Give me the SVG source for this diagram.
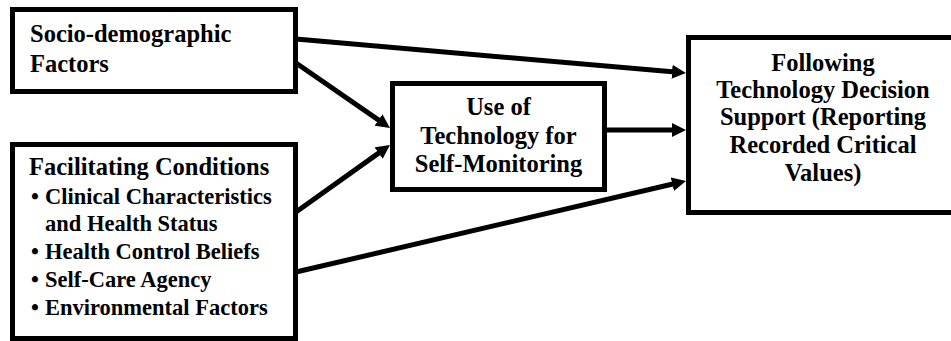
<svg xmlns="http://www.w3.org/2000/svg" width="951" height="341" viewBox="0 0 951 341">
  <style>
    .box { fill: #ffffff; stroke: #000000; stroke-width: 5; }
    .t { font-family: "Liberation Serif", "Times New Roman", serif; font-weight: bold; font-size: 24.5px; fill: #000000; }
    .s { font-size: 22.5px; }
    .c { text-anchor: middle; }
    .edge { stroke: #000000; stroke-width: 5; fill: none; marker-end: url(#arrow); }
  </style>
  <defs>
    <marker id="arrow" markerUnits="userSpaceOnUse" markerWidth="14" markerHeight="14" refX="6" refY="7" orient="auto">
      <path d="M0,0 L14,7 L0,14 z" fill="#000000"/>
    </marker>
  </defs>
  <rect width="951" height="341" fill="#ffffff"/>

  <!-- connectors -->
  <g id="connectors">
    <line class="edge" x1="296" y1="39" x2="678" y2="72.3"/>
    <line class="edge" x1="296" y1="63" x2="383.4" y2="123.4"/>
    <line class="edge" x1="296" y1="212" x2="383.5" y2="149.6"/>
    <line class="edge" x1="607" y1="130" x2="678" y2="130"/>
    <line class="edge" x1="296" y1="272" x2="678.2" y2="182.8"/>
  </g>

  <g id="socio">
    <rect class="box" x="12.5" y="9.5" width="283" height="82"/>
    <text class="t" x="30" y="42">Socio-demographic</text>
    <text class="t" x="30" y="72">Factors</text>
  </g>

  <g id="facilitating">
    <rect class="box" x="12.5" y="144.5" width="283" height="194"/>
    <text class="t" x="29" y="175">Facilitating Conditions</text>
    <text class="t s" x="31" y="204">•</text>
    <text class="t s" x="45" y="204">Clinical Characteristics</text>
    <text class="t s" x="45" y="231">and Health Status</text>
    <text class="t s" x="31" y="259">•</text>
    <text class="t s" x="45" y="259">Health Control Beliefs</text>
    <text class="t s" x="31" y="287">•</text>
    <text class="t s" x="45" y="287">Self-Care Agency</text>
    <text class="t s" x="31" y="315">•</text>
    <text class="t s" x="45" y="315">Environmental Factors</text>
  </g>

  <g id="use">
    <rect class="box" x="392.5" y="83.5" width="212" height="106"/>
    <text class="t c" x="498.5" y="115">Use of</text>
    <text class="t c" x="498.5" y="144">Technology for</text>
    <text class="t c" x="498.5" y="172">Self-Monitoring</text>
  </g>

  <g id="following">
    <rect class="box" x="688.5" y="37.5" width="270" height="175"/>
    <text class="t c" x="823" y="71">Following</text>
    <text class="t c" x="823" y="98">Technology Decision</text>
    <text class="t c" x="823" y="125">Support (Reporting</text>
    <text class="t c" x="823" y="153">Recorded Critical</text>
    <text class="t c" x="823" y="181">Values)</text>
  </g>
</svg>
